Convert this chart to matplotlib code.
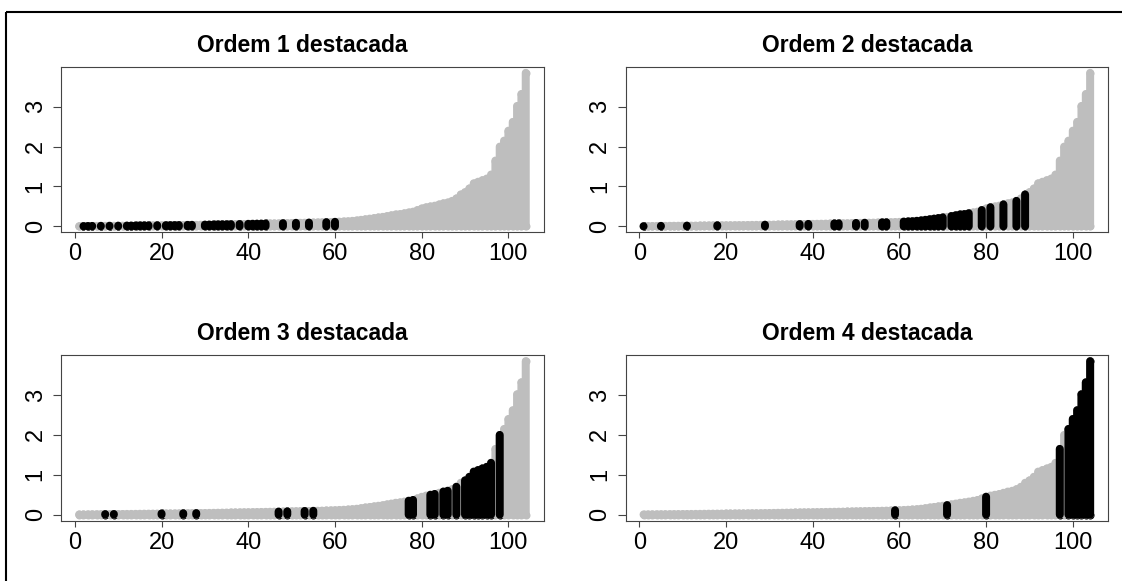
import numpy as np
import matplotlib
matplotlib.use("Agg")
import matplotlib.pyplot as plt
from matplotlib.lines import Line2D

plt.rcParams["font.family"] = ["Liberation Sans", "DejaVu Sans"]

# altura de cada coluna (valores ja ordenados)
alturas = [
    0.005, 0.008, 0.010, 0.012, 0.013, 0.014, 0.015, 0.016, 0.017, 0.018,
    0.019, 0.020, 0.021, 0.022, 0.024, 0.026, 0.027, 0.028, 0.029, 0.030,
    0.031, 0.032, 0.033, 0.034, 0.036, 0.038, 0.039, 0.040, 0.042, 0.044,
    0.046, 0.048, 0.050, 0.052, 0.054, 0.056, 0.058, 0.060, 0.062, 0.064,
    0.066, 0.068, 0.070, 0.072, 0.074, 0.076, 0.078, 0.080, 0.083, 0.086,
    0.089, 0.091, 0.093, 0.095, 0.097, 0.100, 0.103, 0.106, 0.110, 0.114,
    0.120, 0.125, 0.130, 0.140, 0.150, 0.165, 0.180, 0.195, 0.210, 0.225,
    0.240, 0.260, 0.280, 0.300, 0.310, 0.330, 0.350, 0.370, 0.410, 0.450,
    0.480, 0.500, 0.520, 0.550, 0.580, 0.600, 0.640, 0.700, 0.800, 0.860,
    0.950, 1.080, 1.120, 1.160, 1.200, 1.300, 1.650, 2.000, 2.150, 2.400,
    2.620, 3.020, 3.320, 3.850,
]

# ordem (1 a 4) de cada coluna
ordem = [
    2, 1, 1, 1, 2, 1, 3, 1, 3, 1,
    2, 1, 1, 1, 1, 1, 1, 2, 1, 3,
    1, 1, 1, 1, 3, 1, 1, 3, 2, 1,
    1, 1, 1, 1, 1, 1, 2, 1, 2, 1,
    1, 1, 1, 1, 2, 2, 3, 1, 3, 2,
    1, 2, 3, 1, 3, 2, 2, 1, 4, 1,
    2, 2, 2, 2, 2, 2, 2, 2, 2, 2,
    4, 2, 2, 2, 2, 2, 3, 3, 2, 4,
    2, 3, 3, 2, 3, 3, 2, 3, 2, 3,
    3, 3, 3, 3, 3, 3, 4, 3, 4, 4,
    4, 4, 4, 4,
]

titulos = ["Ordem 1 destacada", "Ordem 2 destacada",
           "Ordem 3 destacada", "Ordem 4 destacada"]
xticks = [0, 20, 40, 60, 80, 100]
yticks = [0, 1, 2, 3]

W, H = 1122, 581
x = np.arange(1, len(alturas) + 1)
h = np.array(alturas)
o = np.array(ordem)

fig = plt.figure(figsize=(W / 100, H / 100), dpi=100)

# caixas dos paineis em pixels: esquerda, topo
lefts = [61.3, 625.7]
tops = [66.7, 355.0]
bw, bh = 482.3, 165.6

diam = 8.0 * 72 / 100  # diametro do ponto em pt


def coluna(ax, xs, hs, cor):
    lc = ax.vlines(xs, 0, hs, colors=cor, linewidth=diam)
    lc.set_capstyle("round")
    lc.set_snap(False)
    ax.scatter(xs, np.zeros(len(xs)), s=diam ** 2, c=cor, linewidths=0)
    ax.scatter(xs, hs, s=diam ** 2, c=cor, linewidths=0)


k = 0
for r in range(2):
    for c in range(2):
        ax = fig.add_axes([lefts[c] / W, 1 - (tops[r] + bh) / H, bw / W, bh / H])
        coluna(ax, x, h, "#bebebe")
        sel = o == (k + 1)
        coluna(ax, x[sel], h[sel], "black")

        n = len(x)
        ax.set_xlim(1 - 0.04 * (n - 1), n + 0.04 * (n - 1))
        rng = h.max() - h.min()
        ax.set_ylim(h.min() - 0.04 * rng, h.max() + 0.04 * rng)
        ax.set_xticks(xticks)
        ax.set_yticks(yticks)
        ax.tick_params(axis="x", length=4.5, width=0.8, color="#444444",
                       labelsize=17, pad=3.5)
        ax.tick_params(axis="y", length=5.5, width=0.8, color="#444444",
                       labelsize=17, pad=5, labelrotation=90)
        for lab in ax.get_yticklabels():
            lab.set_verticalalignment("center")
        for s in ax.spines.values():
            s.set_color("#444444")
            s.set_linewidth(0.8)
        ax.set_title(titulos[k], fontsize=16.5, fontweight="bold", pad=10.5)
        k += 1

# moldura (so topo e esquerda aparecem)
fig.add_artist(Line2D([6 / W, 1.01], [1 - 12 / H, 1 - 12 / H],
                      transform=fig.transFigure, color="black", linewidth=1.5,
                      solid_capstyle="butt"))
fig.add_artist(Line2D([6 / W, 6 / W], [-0.01, 1 - 12 / H],
                      transform=fig.transFigure, color="black", linewidth=1.5,
                      solid_capstyle="butt"))

fig.savefig("out.png", dpi=100)
